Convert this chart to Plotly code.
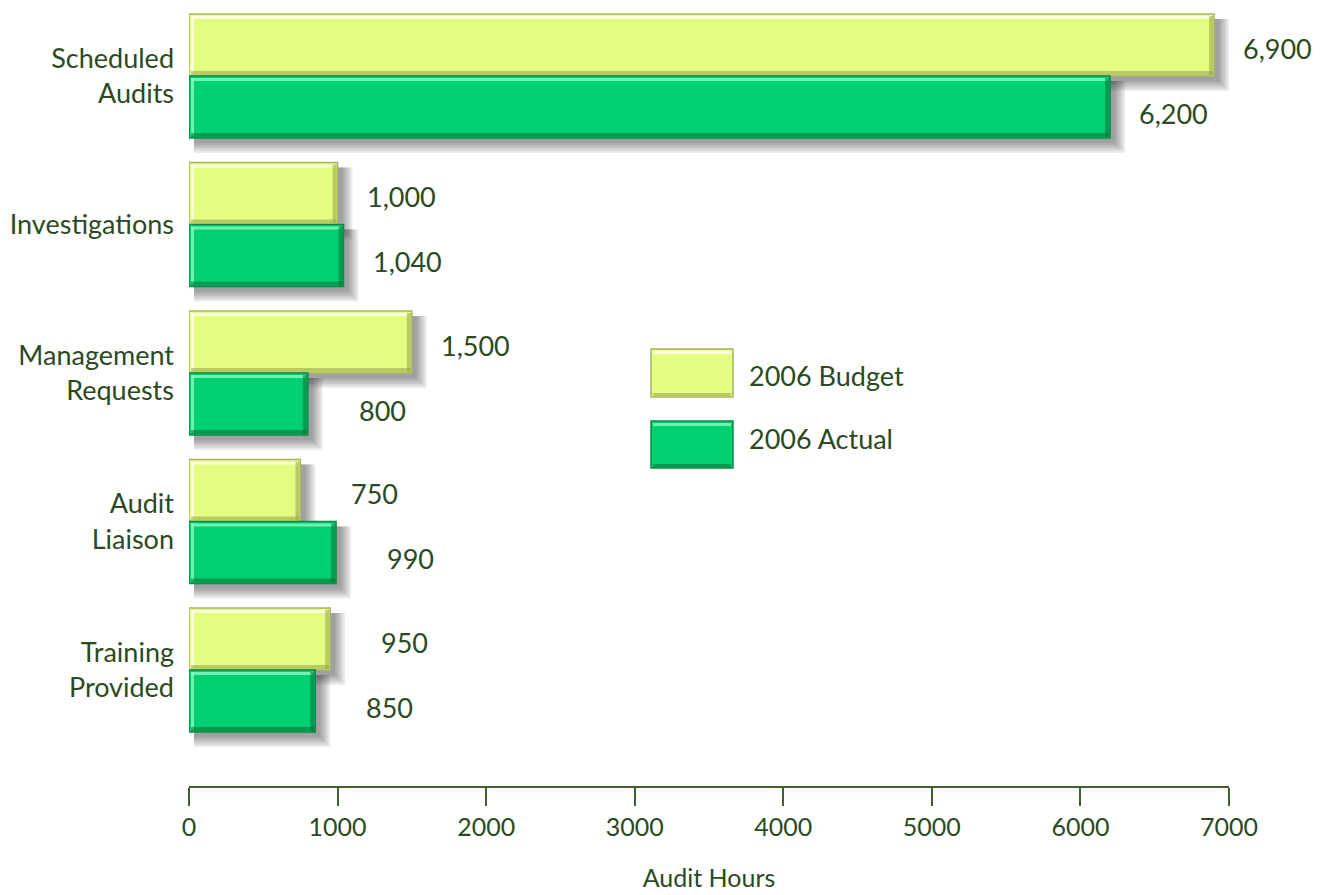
import plotly.graph_objects as go

categories = ["Scheduled Audits", "Investigations", "Management Requests", "Audit Liaison", "Training Provided"]
category_labels = ["Scheduled<br>Audits", "Investigations", "Management<br>Requests", "Audit<br>Liaison", "Training<br>Provided"]
budget_2006 = [6900, 1000, 1500, 750, 950]
actual_2006 = [6200, 1040, 800, 990, 850]
series_names = ["2006 Budget", "2006 Actual"]
x_ticks = [0, 1000, 2000, 3000, 4000, 5000, 6000, 7000]

TEXT = "#2b4a22"
AXIS = "#3f5f30"
FONT = "Lato"
fills = ["#e2fd80", "#00d070"]
edges = ["#a8b46a", "#0a8a46"]
highlights = ["rgba(255,255,235,0.85)", "rgba(150,255,200,0.75)"]
darks = ["rgba(150,160,70,0.55)", "rgba(0,110,55,0.55)"]

W, H = 1328, 895
ML, MR, MT, MB = 189, 99, 0, 109
plot_w = W - ML - MR
plot_h = H - MT - MB
XMAX = 7000
Y_RANGE = [4.781, -0.512]
BARGAP = 0.165

kx = XMAX / plot_w                      # data units per px (x)
ky = (Y_RANGE[0] - Y_RANGE[1]) / plot_h  # category units per px (y)
bw = (1 - BARGAP) / 2                   # single bar thickness in category units

fig = go.Figure()
idx = list(range(len(categories)))
for t, (name, vals) in enumerate(zip(series_names, [budget_2006, actual_2006])):
    fig.add_trace(go.Bar(
        y=idx, x=vals, orientation="h", name=name,
        marker=dict(color=fills[t], line=dict(color=edges[t], width=1.5)),
        showlegend=False, hoverinfo="x+name",
    ))

shapes = []
annotations = []
for t, vals in enumerate([budget_2006, actual_2006]):
    for i, v in enumerate(vals):
        c = i + (t - 0.5) * bw
        y0, y1 = c - bw / 2, c + bw / 2
        # soft drop shadow
        for k in range(1, 7):
            shapes.append(dict(
                type="rect", xref="x", yref="y", layer="below",
                x0=5 * kx, x1=v + (3 + 2 * k) * kx,
                y0=y0 + 5 * ky, y1=y1 + (3 + 2 * k) * ky,
                line=dict(width=0), fillcolor="rgba(40,40,40,0.085)",
            ))
        # bevel highlight (top/left) and dark (bottom/right)
        shapes.append(dict(type="rect", xref="x", yref="y", layer="above",
                           x0=2 * kx, x1=v - 2 * kx, y0=y0 + 2 * ky, y1=y0 + 5 * ky,
                           line=dict(width=0), fillcolor=highlights[t]))
        shapes.append(dict(type="rect", xref="x", yref="y", layer="above",
                           x0=2 * kx, x1=5 * kx, y0=y0 + 2 * ky, y1=y1 - 2 * ky,
                           line=dict(width=0), fillcolor=highlights[t]))
        shapes.append(dict(type="rect", xref="x", yref="y", layer="above",
                           x0=2 * kx, x1=v - 1 * kx, y0=y1 - 5 * ky, y1=y1 - 1 * ky,
                           line=dict(width=0), fillcolor=darks[t]))
        shapes.append(dict(type="rect", xref="x", yref="y", layer="above",
                           x0=v - 5 * kx, x1=v - 1 * kx, y0=y0 + 2 * ky, y1=y1 - 1 * ky,
                           line=dict(width=0), fillcolor=darks[t]))
        annotations.append(dict(
            x=v, y=c + (3 + 3 * t) * ky, xref="x", yref="y", text=f"{v:,}",
            showarrow=False, xanchor="right", yanchor="middle", xshift=100,
            font=dict(family=FONT, size=27, color=TEXT),
        ))

# custom legend (large swatches)
def px_x(p):
    return (p - ML) / plot_w

def px_y(p):
    return 1 - (p - MT) / plot_h

legend_rows = [(349, 397, 375), (421, 468, 438)]
for t, (top, bot, ty) in enumerate(legend_rows):
    shapes.append(dict(type="rect", xref="paper", yref="paper",
                       x0=px_x(651), x1=px_x(733), y0=px_y(bot), y1=px_y(top),
                       line=dict(color=edges[t], width=1.5), fillcolor=fills[t]))
    shapes.append(dict(type="rect", xref="paper", yref="paper",
                       x0=px_x(653), x1=px_x(731), y0=px_y(top + 5), y1=px_y(top + 2),
                       line=dict(width=0), fillcolor=highlights[t]))
    shapes.append(dict(type="rect", xref="paper", yref="paper",
                       x0=px_x(653), x1=px_x(731), y0=px_y(bot - 1), y1=px_y(bot - 4),
                       line=dict(width=0), fillcolor=darks[t]))
    annotations.append(dict(x=px_x(747), y=px_y(ty), xref="paper", yref="paper",
                            text=series_names[t], showarrow=False, xanchor="left", yanchor="middle",
                            font=dict(family=FONT, size=27, color=TEXT)))

fig.update_layout(
    width=W, height=H,
    margin=dict(l=ML, r=MR, t=MT, b=MB),
    paper_bgcolor="white", plot_bgcolor="white",
    barmode="group", bargap=BARGAP, bargroupgap=0,
    shapes=shapes, annotations=annotations,
    font=dict(family=FONT, color=TEXT),
    xaxis=dict(
        range=[0, XMAX], tickvals=x_ticks, ticktext=[str(v) for v in x_ticks],
        showgrid=False, zeroline=False,
        showline=True, linecolor=AXIS, linewidth=1.5,
        ticks="outside", ticklen=18, tickwidth=1.5, tickcolor=AXIS,
        tickfont=dict(family=FONT, size=25, color=TEXT),
        title=dict(text="Audit Hours", font=dict(family=FONT, size=25, color=TEXT), standoff=30),
    ),
    yaxis=dict(
        range=Y_RANGE, tickvals=idx, ticktext=category_labels,
        showgrid=False, zeroline=False, showline=False, ticks="",
        ticklabelstandoff=14,
        tickfont=dict(family=FONT, size=27, color=TEXT),
    ),
)

fig.write_html("out.html")
